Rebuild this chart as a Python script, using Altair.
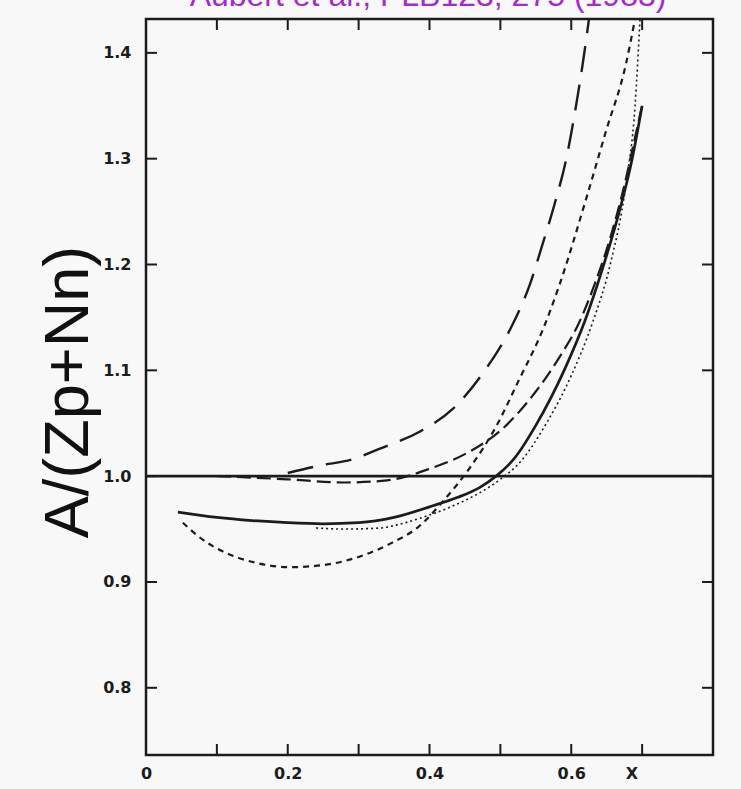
import altair as alt
import pandas as pd

# ---------------- data ----------------
x_tick_values = [0.1, 0.2, 0.3, 0.4, 0.5, 0.6, 0.7]
y_tick_values = [0.8, 0.9, 1.0, 1.1, 1.2, 1.3, 1.4]
x_label_values = [0.0, 0.2, 0.4, 0.6, 0.685]

unity = [1.0]

solid_x = [0.045, 0.1, 0.15, 0.2, 0.25, 0.3, 0.35, 0.4, 0.44, 0.47, 0.494, 0.52, 0.55, 0.59, 0.62, 0.645, 0.667, 0.686, 0.70]
solid_y = [0.966, 0.961, 0.958, 0.956, 0.955, 0.956, 0.961, 0.971, 0.980, 0.989, 1.0, 1.017, 1.048, 1.10, 1.148, 1.198, 1.248, 1.30, 1.35]

short_x = [0.052, 0.08, 0.108, 0.156, 0.203, 0.25, 0.297, 0.344, 0.386, 0.42, 0.456, 0.494, 0.527, 0.559, 0.583, 0.621, 0.649, 0.677, 0.69]
short_y = [0.956, 0.94, 0.929, 0.918, 0.914, 0.916, 0.923, 0.936, 0.953, 0.977, 1.007, 1.047, 1.092, 1.137, 1.18, 1.262, 1.326, 1.389, 1.432]

long_x = [0.2, 0.245, 0.292, 0.33, 0.386, 0.432, 0.475, 0.517, 0.541, 0.559, 0.576, 0.593, 0.607, 0.618, 0.625]
long_y = [1.003, 1.01, 1.016, 1.026, 1.042, 1.063, 1.097, 1.143, 1.18, 1.218, 1.256, 1.30, 1.351, 1.398, 1.432]

mid_x = [0.1, 0.2, 0.28, 0.34, 0.4, 0.456, 0.5, 0.55, 0.583, 0.611, 0.635, 0.655, 0.675, 0.69, 0.70]
mid_y = [1.0, 0.997, 0.994, 0.996, 1.007, 1.023, 1.043, 1.08, 1.112, 1.145, 1.185, 1.225, 1.275, 1.32, 1.35]

dot_x = [0.24, 0.28, 0.33, 0.36, 0.39, 0.43, 0.47, 0.5, 0.53, 0.565, 0.6, 0.63, 0.655, 0.677, 0.69, 0.697]
dot_y = [0.951, 0.950, 0.951, 0.955, 0.961, 0.971, 0.984, 0.997, 1.015, 1.05, 1.095, 1.145, 1.2, 1.275, 1.35, 1.432]

title_text = ["Aubert et al., PLB123, 275 (1983)"]
ylabel_text = ["A/(Zp+Nn)"]

# ---------------- layout ----------------
W, H = 567, 736
X_DOMAIN = [0, 0.8]
Y_DOMAIN = [0.7365, 1.432]
INK = "#1c1c1c"
TICK = 11

xaxis = alt.Axis(
    values=x_label_values,
    labelExpr="datum.value > 0.65 ? 'X' : (datum.value < 0.01 ? '0' : format(datum.value, '.1f'))",
    ticks=False, domain=False, grid=False, title=None,
    labelFont="DejaVu Sans", labelFontSize=16, labelFontWeight="bold",
    labelColor=INK, labelPadding=10, labelFlush=False, labelOverlap=False,
)
yaxis = alt.Axis(
    values=y_tick_values, format=".1f",
    ticks=False, domain=False, grid=False, title=None,
    labelFont="DejaVu Sans", labelFontSize=16, labelFontWeight="bold",
    labelColor=INK, labelPadding=15, labelFlush=False, labelOverlap=False,
)


def X(field="x"):
    return alt.X(f"{field}:Q", scale=alt.Scale(domain=X_DOMAIN, nice=False, zero=False), axis=xaxis)


def Y(field="y"):
    return alt.Y(f"{field}:Q", scale=alt.Scale(domain=Y_DOMAIN, nice=False, zero=False), axis=yaxis)


def curve(xs, ys, width, dash=None):
    kw = dict(color=INK, strokeWidth=width, interpolate="monotone", clip=True)
    if dash is not None:
        kw["strokeDash"] = dash
    return alt.Chart(pd.DataFrame({"x": xs, "y": ys})).mark_line(**kw).encode(x=X(), y=Y())


df_xt = pd.DataFrame({"x": x_tick_values})
df_yt = pd.DataFrame({"y": y_tick_values})

ticks_bottom = alt.Chart(df_xt).mark_rule(color=INK, strokeWidth=2).encode(
    x=X(), y=alt.value(H), y2=alt.value(H - TICK))
ticks_top = alt.Chart(df_xt).mark_rule(color=INK, strokeWidth=2).encode(
    x=X(), y=alt.value(0), y2=alt.value(TICK))
ticks_left = alt.Chart(df_yt).mark_rule(color=INK, strokeWidth=2).encode(
    y=Y(), x=alt.value(0), x2=alt.value(TICK))
ticks_right = alt.Chart(df_yt).mark_rule(color=INK, strokeWidth=2).encode(
    y=Y(), x=alt.value(W), x2=alt.value(W - TICK))

unity_line = alt.Chart(pd.DataFrame({"y": unity})).mark_rule(color=INK, strokeWidth=2.6).encode(y=Y())

title = alt.Chart(pd.DataFrame({"t": title_text})).mark_text(
    font="Liberation Sans", fontSize=32, color="#a32cc8", align="center", baseline="alphabetic"
).encode(x=alt.value(282), y=alt.value(-13), text="t:N")

ylabel = alt.Chart(pd.DataFrame({"t": ylabel_text})).mark_text(
    font="Liberation Sans", fontSize=63, color="#111111", align="center", baseline="alphabetic", angle=270
).encode(x=alt.value(-58), y=alt.value(373), text="t:N")

chart = alt.layer(
    unity_line,
    curve(solid_x, solid_y, 2.7),
    curve(short_x, short_y, 2.2, [6, 5]),
    curve(long_x, long_y, 2.4, [26, 13]),
    curve(mid_x, mid_y, 2.2, [14, 6]),
    curve(dot_x, dot_y, 1.6, [2, 3]),
    ticks_bottom, ticks_top, ticks_left, ticks_right,
    title, ylabel,
).properties(
    width=W, height=H,
    autosize="none",
    padding={"left": 146, "top": 19, "right": 28, "bottom": 34},
    background="#f8f8f8",
).configure_view(stroke=INK, strokeWidth=2.5)

chart.save("out.html", embed_options={"renderer": "svg", "actions": False})
